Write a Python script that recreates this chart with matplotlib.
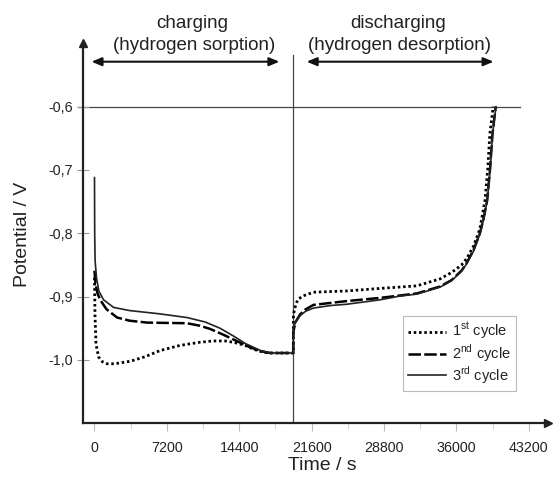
import numpy as np
import matplotlib
matplotlib.use("Agg")
import matplotlib.pyplot as plt

plt.rcParams.update({
    "font.family": ["Liberation Sans", "DejaVu Sans"],
    "mathtext.fontset": "custom",
    "mathtext.rm": "Liberation Sans",
    "text.color": "#222222",
})

# ---- data ----
t_switch = 19770  # end of charging

cycle1_t = [0, 50, 150, 400, 800, 1260, 2000, 3570, 5000, 6550, 8500, 10500, 11800,
            13000, 13800, 15000, 15800, 16800, 17500, 19770,
            19780, 19900, 20200, 20700, 21780, 25090, 28400, 32050, 34360, 35500,
            36500, 37010, 37700, 38330, 38830, 39100, 39320, 39650]
cycle1_v = [-0.870, -0.930, -0.975, -0.995, -1.003, -1.006, -1.006, -1.002, -0.995, -0.985,
            -0.977, -0.972, -0.970, -0.970, -0.972, -0.977, -0.983, -0.988, -0.989, -0.989,
            -0.930, -0.919, -0.905, -0.899, -0.893, -0.891, -0.887, -0.883, -0.872, -0.862,
            -0.850, -0.840, -0.820, -0.793, -0.748, -0.700, -0.643, -0.600]

cycle2_t = [0, 100, 300, 600, 1200, 2250, 3500, 5230, 9200, 10500, 11500, 12800, 14000,
            15200, 16500, 17500, 19770,
            19780, 20000, 20450, 21000, 21780, 25090, 28400, 32050, 34360, 35500,
            36500, 37010, 37700, 38330, 38700, 39050, 39330, 39580, 39900]
cycle2_v = [-0.859, -0.880, -0.895, -0.906, -0.920, -0.933, -0.938, -0.941, -0.942, -0.946,
            -0.951, -0.960, -0.969, -0.978, -0.986, -0.989, -0.989,
            -0.955, -0.940, -0.928, -0.920, -0.913, -0.907, -0.902, -0.895, -0.884, -0.874,
            -0.859, -0.847, -0.826, -0.800, -0.776, -0.748, -0.700, -0.643, -0.600]

cycle3_t = [0, 20, 60, 200, 430, 900, 1900, 3500, 6400, 9200, 11000, 12500, 13800,
            15000, 16500, 17500, 19770,
            19780, 20000, 20450, 21000, 21780, 23500, 25090, 28400, 30400, 32050, 34360,
            35500, 36500, 37010, 37700, 38330, 38700, 39060, 39350, 39590, 39930]
cycle3_v = [-0.712, -0.800, -0.843, -0.870, -0.891, -0.905, -0.917, -0.922, -0.927, -0.933,
            -0.940, -0.950, -0.962, -0.974, -0.985, -0.989, -0.989,
            -0.950, -0.940, -0.930, -0.923, -0.918, -0.914, -0.912, -0.905, -0.899, -0.896,
            -0.885, -0.875, -0.860, -0.848, -0.828, -0.801, -0.778, -0.748, -0.700, -0.643,
            -0.600]

x_ticks = [0, 7200, 14400, 21600, 28800, 36000, 43200]
y_ticks = [-0.6, -0.7, -0.8, -0.9, -1.0]
y_ticklabels = ["-0,6", "-0,7", "-0,8", "-0,9", "-1,0"]
legend_labels = ["1$^{\\mathrm{st}}$ cycle", "2$^{\\mathrm{nd}}$ cycle", "3$^{\\mathrm{rd}}$ cycle"]

# ---- figure ----
W, H = 556, 479
fig = plt.figure(figsize=(W / 100, H / 100), dpi=100)
ax = fig.add_axes([82.7 / W, 55.7 / H, (548 - 82.7) / W, (423.3 - 42.7) / H])

ax.plot(cycle1_t, cycle1_v, color="black", lw=2.0, ls=(0, (0.9, 1.0)), label=legend_labels[0])
ax.plot(cycle2_t, cycle2_v, color="black", lw=1.8, ls=(0, (5, 1.3)), label=legend_labels[1])
ax.plot(cycle3_t, cycle3_v, color="#222222", lw=1.2, label=legend_labels[2])

ax.set_xlim(-1173, 45100)
ax.set_ylim(-1.1, -0.499)

# reference lines
ax.plot([-1640, 42310], [-0.6, -0.6], color="#444444", lw=0.9, clip_on=False, zorder=1)
ax.plot([t_switch, t_switch], [-1.1, -0.519], color="#444444", lw=0.9, clip_on=False, zorder=1)

# spines / axis arrows
for s in ["top", "right"]:
    ax.spines[s].set_visible(False)
for s in ["left", "bottom"]:
    ax.spines[s].set_linewidth(1.6)
    ax.spines[s].set_color("#222222")
ax.plot(1, 0, ">", color="#222222", ms=6, transform=ax.transAxes, clip_on=False)
ax.plot(0, 1, "^", color="#222222", ms=6, transform=ax.transAxes, clip_on=False)

ax.set_xticks(x_ticks)
ax.set_xticks(np.arange(3600, 43200, 7200), minor=True)
ax.set_yticks(y_ticks)
ax.set_yticklabels(y_ticklabels)
ax.tick_params(axis="x", direction="out", length=6, width=0.8, color="#bbbbbb",
               labelsize=10.3, labelcolor="#222222", pad=7)
ax.tick_params(axis="x", which="minor", direction="out", length=4, width=0.6, color="#cccccc")
ax.tick_params(axis="y", direction="inout", length=8, width=0.8, color="#999999",
               labelsize=10.3, labelcolor="#222222", pad=3)

fig.text(23 / W, 1 - 234 / H, "Potential / V", rotation=90, ha="center", va="center", fontsize=14)
fig.text(322 / W, 1 - 466 / H, "Time / s", ha="center", va="center", fontsize=14)

# phase headers
fig.text(192 / W, 1 - 23 / H, "charging", ha="center", va="center", fontsize=13.5)
fig.text(194 / W, 1 - 45 / H, "(hydrogen sorption)", ha="center", va="center", fontsize=13.5)
fig.text(398 / W, 1 - 23 / H, "discharging", ha="center", va="center", fontsize=13.5)
fig.text(399 / W, 1 - 45 / H, "(hydrogen desorption)", ha="center", va="center", fontsize=13.5)

arrow_kw = dict(arrowstyle="<|-|>,head_length=0.6,head_width=0.25", color="#111111", lw=1.5,
                shrinkA=0, shrinkB=0)
ax.annotate("", xy=(18390, -0.529), xytext=(-300, -0.529), arrowprops=arrow_kw,
            annotation_clip=False)
ax.annotate("", xy=(39690, -0.529), xytext=(21100, -0.529), arrowprops=arrow_kw,
            annotation_clip=False)

leg = ax.legend(loc="upper left", bbox_to_anchor=(403 / W, 1 - 316 / H),
                bbox_transform=fig.transFigure, fontsize=10.5, frameon=True, fancybox=False,
                borderaxespad=0, handlelength=2.6, handletextpad=0.4, borderpad=0.35,
                labelspacing=0.0)
leg.get_frame().set_edgecolor("#aaaaaa")
leg.get_frame().set_linewidth(0.8)

fig.savefig("out.png", dpi=100)
